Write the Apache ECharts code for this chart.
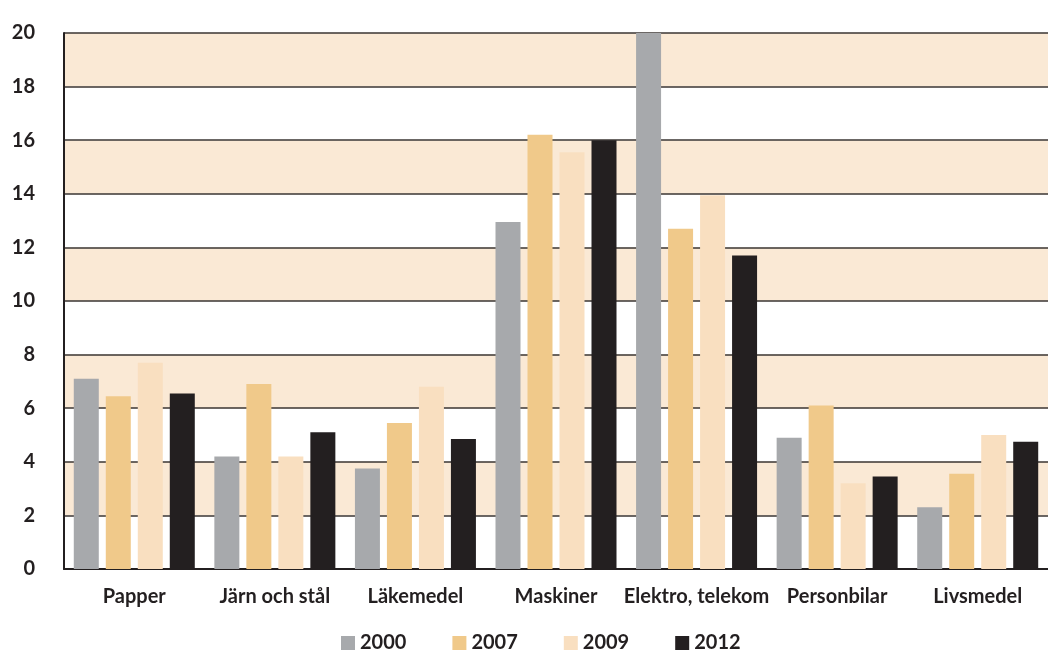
<!DOCTYPE html>
<html>
<head>
<meta charset="utf-8">
<script src="https://cdn.jsdelivr.net/npm/echarts@6/dist/echarts.min.js"></script>
<style>
	html, body { margin: 0; padding: 0; background: #fff; }
	#chart { width: 1048px; height: 650px; }
</style>
</head>
<body>
<div id="chart"></div>
<script>
	// data
	const categories = ['Papper', 'Järn och stål', 'Läkemedel', 'Maskiner', 'Elektro, telekom', 'Personbilar', 'Livsmedel'];
	const years = ['2000', '2007', '2009', '2012'];
	const v2000 = [7.1, 4.2, 3.75, 12.95, 20.0, 4.9, 2.3];
	const v2007 = [6.45, 6.9, 5.45, 16.2, 12.7, 6.1, 3.55];
	const v2009 = [7.7, 4.2, 6.8, 15.55, 13.95, 3.2, 5.0];
	const v2012 = [6.55, 5.1, 4.85, 16.0, 11.7, 3.45, 4.75];
	const yTicks = [0, 2, 4, 6, 8, 10, 12, 14, 16, 18, 20];

	const colors = ['#a7a9ac', '#f0c98a', '#f9dfc0', '#231f20'];
	const font = 'Lato, "Noto Sans", sans-serif';

	const seriesValues = [v2000, v2007, v2009, v2012];

	var myChart = echarts.init(document.getElementById('chart'));

	var option = {
		animation: false,
		color: colors,
		grid: {
			left: 64,
			right: 0,
			top: 33,
			bottom: 81
		},
		legend: {
			top: 628,
			left: 336,
			itemWidth: 14,
			itemHeight: 14,
			itemGap: 46,
			icon: 'rect',
			textStyle: {
				fontFamily: font,
				fontWeight: 'bold',
				fontSize: 20,
				color: '#231f20'
			},
			data: years
		},
		xAxis: {
			type: 'category',
			data: categories,
			axisTick: { show: false },
			axisLine: {
				lineStyle: { color: '#231f20', width: 2 }
			},
			axisLabel: {
				interval: 0,
				margin: 18,
				fontFamily: font,
				fontWeight: 'bold',
				fontSize: 20,
				color: '#231f20'
			}
		},
		yAxis: {
			type: 'value',
			min: yTicks[0],
			max: yTicks[yTicks.length - 1],
			interval: 2,
			axisLine: {
				show: true,
				lineStyle: { color: '#231f20', width: 2 }
			},
			axisTick: { show: false },
			axisLabel: {
				margin: 29,
				fontFamily: font,
				fontWeight: 'bold',
				fontSize: 20,
				color: '#231f20'
			},
			splitLine: {
				show: true,
				lineStyle: { color: '#3a3532', width: 1.5 }
			},
			// alternating beige bands (2-4, 6-8, ...)
			splitArea: {
				show: true,
				areaStyle: {
					color: ['#ffffff', '#fae9d5']
				}
			}
		},
		series: seriesValues.map((vals, i) => ({
			name: years[i],
			type: 'bar',
			barWidth: 25,
			barGap: '28%',
			data: vals
		}))
	};

	option && myChart.setOption(option);
</script>
</body>
</html>
